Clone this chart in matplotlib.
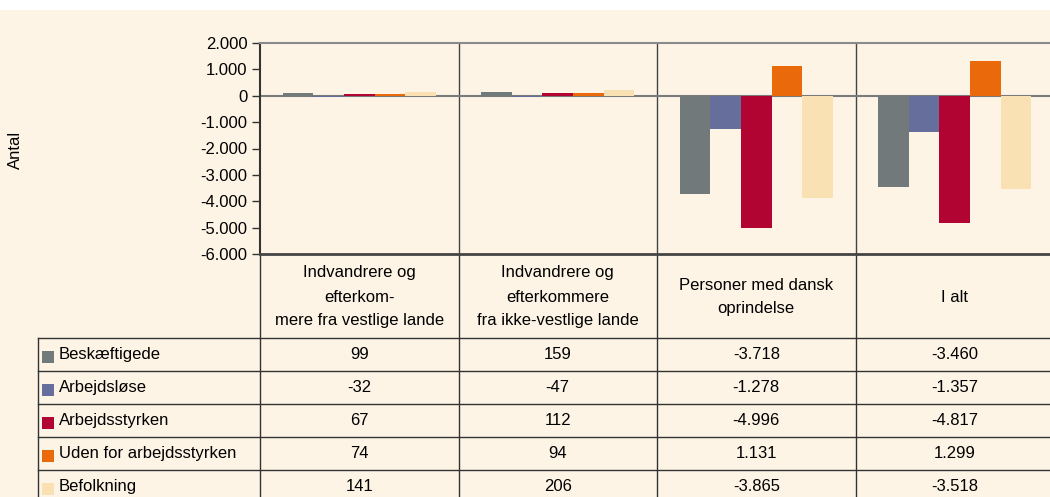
import matplotlib
matplotlib.use('Agg')
import matplotlib.pyplot as plt
from matplotlib.patches import Rectangle
import numpy as np

plt.rcParams['font.family'] = ['Liberation Sans', 'DejaVu Sans']

# Data
groups = ['Indvandrere og\nefterkom-\nmere fra vestlige lande',
          'Indvandrere og\nefterkommere\nfra ikke-vestlige lande',
          'Personer med dansk\noprindelse',
          'I alt']
series = ['Beskæftigede', 'Arbejdsløse', 'Arbejdsstyrken',
          'Uden for arbejdsstyrken', 'Befolkning']
beskaeftigede = [99, 159, -3718, -3460]
arbejdsloese = [-32, -47, -1278, -1357]
arbejdsstyrken = [67, 112, -4996, -4817]
uden_for = [74, 94, 1131, 1299]
befolkning = [141, 206, -3865, -3518]
values = [beskaeftigede, arbejdsloese, arbejdsstyrken, uden_for, befolkning]
colors = ['#71797B', '#666E9C', '#B10432', '#EA690B', '#FAE1B4']
yticks = [2000, 1000, 0, -1000, -2000, -3000, -4000, -5000, -6000]

BG = '#FDF4E6'
W, H = 1050, 497
FS = 12


def fmt(v):
    return f'{v:,}'.replace(',', '.')


fig = plt.figure(figsize=(W / 100, H / 100), dpi=100, facecolor='white')

# layout in pixels
x0, colw = 260, 198.5
top, bot = 43, 254
hdr_bot, rowh = 338, 33
lab_x = 38

# overlay axes for background + table
axt = fig.add_axes([0, 0, 1, 1], zorder=0)
axt.set_xlim(0, W)
axt.set_ylim(H, 0)
axt.axis('off')
axt.add_patch(Rectangle((0, 10), W, H, facecolor=BG, edgecolor='none'))

# bar axes
ax = fig.add_axes([x0 / W, (H - bot) / H, 4 * colw / W, (bot - top) / H], zorder=1)
ax.patch.set_alpha(0)
n = len(series)
bw = 0.1545
xs = np.arange(len(groups)) + 0.5
for i, (name, vals, c) in enumerate(zip(series, values, colors)):
    ax.bar(xs + (i - (n - 1) / 2) * bw, vals, width=bw, color=c, edgecolor='none', zorder=2)
ax.set_xlim(0, len(groups))
ax.set_ylim(-6000, 2000)
ax.set_yticks(yticks)
ax.set_yticklabels([fmt(t) for t in yticks], fontsize=FS)
ax.set_xticks([])
ax.tick_params(axis='y', direction='out', length=6, width=1, color='#333333', pad=3)
ax.axhline(0, color='#7a7a7a', lw=1.5, zorder=1.5)
for k in range(1, len(groups)):
    ax.axvline(k, color='#444444', lw=1, zorder=1)
ax.spines['right'].set_visible(False)
ax.spines['top'].set_color('#8a8a8a')
ax.spines['top'].set_linewidth(1.5)
ax.spines['left'].set_color('#333333')
ax.spines['left'].set_linewidth(1.5)
ax.spines['bottom'].set_color('#444444')
ax.spines['bottom'].set_linewidth(2)

fig.text(15 / W, 1 - 150 / H, 'Antal', rotation=90, ha='center', va='center', fontsize=FS)

# table
line_c = '#333333'
for k in range(len(groups)):
    axt.plot([x0 + k * colw] * 2, [bot, H], color=line_c, lw=1)
axt.plot([lab_x, lab_x], [hdr_bot, H], color=line_c, lw=1)
for r in range(len(series)):
    y = hdr_bot + r * rowh
    axt.plot([lab_x, W], [y, y], color=line_c, lw=1)

for k, g in enumerate(groups):
    cx = x0 + (k + 0.5) * colw
    axt.text(cx, (bot + hdr_bot) / 2 + 1, g, ha='center', va='center',
             fontsize=FS, linespacing=1.75)

for r, (name, vals, c) in enumerate(zip(series, values, colors)):
    cy = hdr_bot + (r + 0.5) * rowh
    axt.add_patch(Rectangle((42, cy - 4), 12, 12, facecolor=c, edgecolor='none'))
    axt.text(59, cy, name, ha='left', va='center', fontsize=FS)
    for k, v in enumerate(vals):
        axt.text(x0 + (k + 0.5) * colw, cy, fmt(v), ha='center', va='center', fontsize=FS)

fig.savefig('out.png', dpi=100, facecolor='white')
